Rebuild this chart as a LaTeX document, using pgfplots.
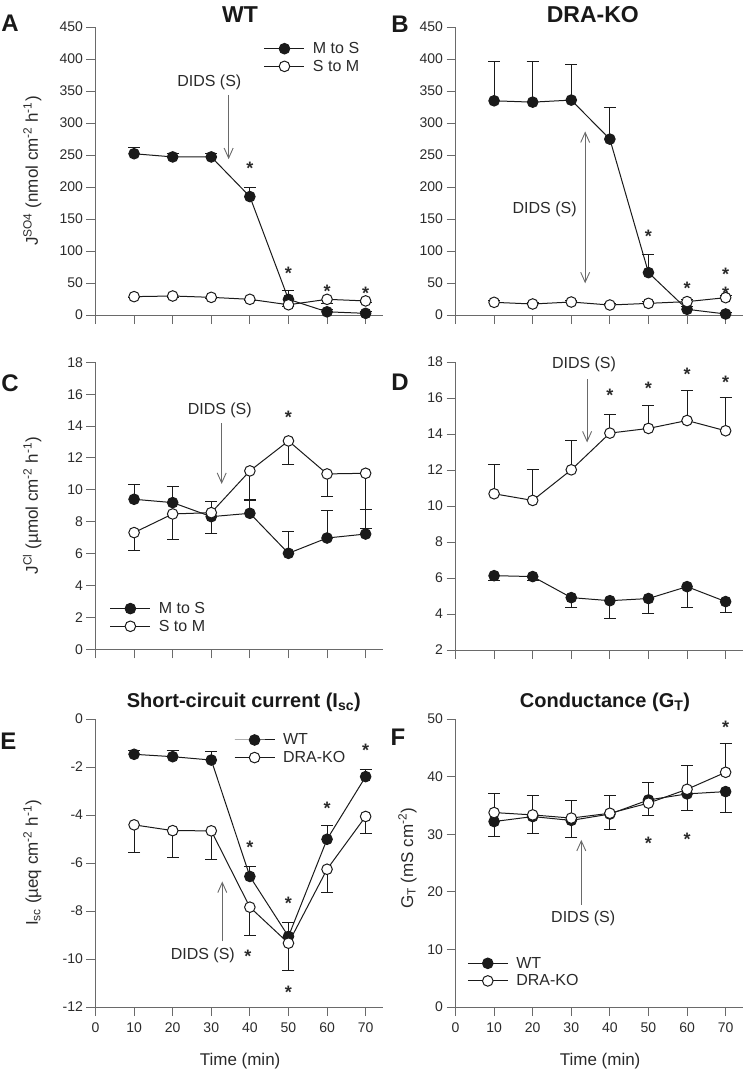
\documentclass[border=0pt]{standalone}
\usepackage{pgfplots}
\pgfplotsset{compat=1.18}
\usepackage{fontspec}
\setmainfont{Liberation Sans}
\usetikzlibrary{arrows.meta}
\definecolor{axgray}{HTML}{6A6A6A}
\definecolor{txt}{HTML}{2A2A2A}
\definecolor{ln}{HTML}{1A1A1A}

\pgfplotsset{
  panel/.style={
    scale only axis, width=287.5pt, height=288pt,
    axis lines=left, axis line style={-, axgray, line width=1pt},
    every tick/.style={axgray, line width=1pt}, major tick length=9pt, tick align=outside,
    xmin=0, xmax=74.5, xtick={0,10,...,70},
    tick label style={font=\fontsize{14}{16}\selectfont, text=txt},
    xticklabel style={yshift=-3pt},
    /pgf/number format/assume math mode=true,
    clip=false,
    every axis y label/.style={at={(axis description cs:-0.22,0.5)}, rotate=90, anchor=center,
      font=\fontsize{17}{20}\selectfont, text=txt},
    every axis x label/.style={at={(axis description cs:0.503,-0.1885)}, anchor=center,
      font=\fontsize{17}{20}\selectfont, text=txt},
    legend style={draw=none, fill=none, inner sep=0pt, outer sep=0pt,
      font=\fontsize{16}{19}\selectfont, text=txt, nodes={inner sep=1pt},
      row sep=3pt},
    legend cell align=left,
    legend image code/.code={\draw[mark repeat=2, mark phase=2] plot coordinates {(0pt,0pt) (20pt,0pt) (40pt,0pt)};
      \path (47pt,0pt);},
    error bars/error mark=-,
    error bars/error mark options={rotate=90, mark size=6pt, line width=1pt},
    error bars/error bar style={line width=1pt},
  },
  fil/.style={ln, line width=1pt, mark=*, mark size=5.3pt, mark options={fill=ln, draw=ln}},
  opn/.style={ln, line width=1pt, mark=*, mark size=5.3pt, mark options={fill=white, draw=ln, line width=1pt}},
  up/.style={error bars/.cd, y dir=plus, y explicit},
  dn/.style={error bars/.cd, y dir=minus, y explicit},
}
\tikzset{
  star/.style={anchor=north, inner sep=0pt, font=\fontsize{18}{18}\selectfont\bfseries, text=txt},
  dids/.style={anchor=center, inner sep=0pt, font=\fontsize{16}{18}\selectfont, text=txt},
  arr/.style={axgray, line width=0.9pt, -{Straight Barb[length=10pt,width=9pt]}},
  darr/.style={axgray, line width=0.9pt, {Straight Barb[length=10pt,width=9pt]}-{Straight Barb[length=10pt,width=9pt]}},
}

\begin{document}
\begin{tikzpicture}
\path[use as bounding box] (0,0) rectangle (745pt,-1074pt);

% ---------------- A ----------------
\begin{axis}[panel, at={(95.5pt,-315pt)}, anchor=south west,
  ymin=0, ymax=450, ytick={0,50,...,450}, xticklabels={},
  ylabel={J\textsuperscript{SO4} (nmol cm\textsuperscript{-2} h\textsuperscript{-1})},
  legend style={at={(axis description cs:0.586,0.894)}, anchor=west}]
\addplot[fil, up] table[x=t, y=v, y error=e] {
t v e
10 252 10
20 247 6
30 247 6
40 185 15
50 24.5 14.5
60 5 4
70 2.6 3
};
\addlegendentry{M to S}
\addplot[opn, dn] table[x=t, y=v, y error=e] {
t v e
10 28.7 2
20 29.7 2
30 27.6 2
40 24.5 2
50 16 3
60 24.5 6
70 22 3
};
\addlegendentry{S to M}
\node[dids] at (axis cs:29.5,363.9) {DIDS (S)};
\draw[arr] (axis cs:34.5,344) -- (axis cs:34.5,243.5);
\node[star] at (axis cs:40,238.8) {*};
\node[star] at (axis cs:50,75.6) {*};
\node[star] at (axis cs:60,46.9) {*};
\node[star] at (axis cs:70,44.3) {*};
\end{axis}

% ---------------- B ----------------
\begin{axis}[panel, at={(455.5pt,-315pt)}, anchor=south west,
  ymin=0, ymax=450, ytick={0,50,...,450}, xticklabels={}]
\addplot[fil, up] table[x=t, y=v, y error=e] {
t v e
10 334.7 61.3
20 332.6 63.4
30 335.8 55.2
40 274.8 50
50 66.2 27.6
60 8.9 5
70 1.6 2
};
\addplot[opn, up] table[x=t, y=v, y error=e] {
t v e
10 19.8 3
20 17.2 3
30 20.3 3
40 15.6 3
50 18.2 3
60 20.9 3
70 27.1 3
};
\node[dids] at (axis cs:23.1,165.5) {DIDS (S)};
\draw[darr] (axis cs:33.6,286.8) -- (axis cs:33.6,49.5);
\node[star] at (axis cs:50,133) {*};
\node[star] at (axis cs:60,52) {*};
\node[star] at (axis cs:70,73) {*};
\node[star] at (axis cs:70,44.3) {*};
\end{axis}

% ---------------- C ----------------
\begin{axis}[panel, at={(95.5pt,-649.3pt)}, anchor=south west,
  height=287pt,
  ymin=0, ymax=18, ytick={0,2,...,18}, xticklabels={},
  ylabel={J\textsuperscript{Cl} (µmol cm\textsuperscript{-2} h\textsuperscript{-1})},
  legend style={at={(axis description cs:0.05,0.111)}, anchor=west}]
\addplot[fil, up] table[x=t, y=v, y error=e] {
t v e
10 9.41 0.92
20 9.20 1.04
30 8.32 0.92
40 8.53 0.88
50 6.02 1.34
60 6.98 1.72
70 7.23 1.55
};
\addlegendentry{M to S}
\addplot[opn, dn] table[x=t, y=v, y error=e] {
t v e
10 7.32 1.13
20 8.49 1.59
30 8.57 1.29
40 11.19 1.84
50 13.07 1.45
60 11.00 1.42
70 11.04 3.45
};
\addlegendentry{S to M}
\node[dids] at (axis cs:32.2,14.97) {DIDS (S)};
\draw[arr] (axis cs:32.7,14.17) -- (axis cs:32.7,10.37);
\node[star] at (axis cs:50,14.95) {*};
\end{axis}

% ---------------- D ----------------
\begin{axis}[panel, at={(455.5pt,-650pt)}, anchor=south west,
  ymin=2, ymax=18, ytick={2,4,...,18}, xticklabels={}]
\addplot[fil, dn] table[x=t, y=v, y error=e] {
t v e
10 6.13 0.27
20 6.08 0.22
30 4.91 0.56
40 4.74 0.98
50 4.86 0.82
60 5.52 1.17
70 4.69 0.61
};
\addplot[opn, up] table[x=t, y=v, y error=e] {
t v e
10 10.68 1.63
20 10.31 1.72
30 12.01 1.63
40 14.05 1.06
50 14.31 1.26
60 14.75 1.67
70 14.18 1.85
};
\node[dids] at (axis cs:33.3,17.85) {DIDS (S)};
\draw[arr] (axis cs:34.1,17.05) -- (axis cs:34.1,13.53);
\node[star] at (axis cs:40,16.52) {*};
\node[star] at (axis cs:50,16.92) {*};
\node[star] at (axis cs:60,17.67) {*};
\node[star] at (axis cs:70,17.24) {*};
\end{axis}

% ---------------- E ----------------
\begin{axis}[panel, at={(95.5pt,-1007pt)}, anchor=south west,
  ymin=-12, ymax=0, ytick={-12,-10,...,0},
  xlabel={Time (min)},
  ylabel={I\textsubscript{sc} (µeq cm\textsuperscript{-2} h\textsuperscript{-1})},
  legend style={at={(axis description cs:0.482,0.8965)}, anchor=west}]
\addplot[fil, up] table[x=t, y=v, y error=e] {
t v e
10 -1.47 0.15
20 -1.57 0.25
30 -1.71 0.34
40 -6.56 0.41
50 -9.06 0.60
60 -5.01 0.57
70 -2.40 0.28
};
\addlegendentry{WT}
\addplot[opn, dn] table[x=t, y=v, y error=e] {
t v e
10 -4.41 1.14
20 -4.65 1.11
30 -4.66 1.18
40 -7.84 1.16
50 -9.34 1.13
60 -6.26 0.97
70 -4.06 0.73
};
\addlegendentry{DRA-KO}
\node[dids] at (axis cs:27.8,-9.86) {DIDS (S)};
\draw[arr] (axis cs:32.85,-9.27) -- (axis cs:32.85,-6.77);
\node[star] at (axis cs:40,-5.08) {*};
\node[star] at (axis cs:39.5,-9.61) {*};
\node[star] at (axis cs:50,-7.42) {*};
\node[star] at (axis cs:50,-11.14) {*};
\node[star] at (axis cs:60,-3.44) {*};
\node[star] at (axis cs:70,-1.04) {*};
\end{axis}

% ---------------- F ----------------
\begin{axis}[panel, at={(455.5pt,-1007pt)}, anchor=south west,
  ymin=0, ymax=50, ytick={0,10,...,50},
  xlabel={Time (min)},
  ylabel={G\textsubscript{T} (mS cm\textsuperscript{-2})},
  every axis y label/.append style={at={(axis description cs:-0.167,0.516)}},
  legend style={at={(axis description cs:0.041,0.121)}, anchor=west}]
\addplot[fil, dn] table[x=t, y=v, y error=e] {
t v e
10 32.20 2.60
20 33.06 2.86
30 32.40 2.90
40 33.50 2.75
50 35.95 2.75
60 37.00 2.95
70 37.40 3.64
};
\addlegendentry{WT}
\addplot[opn, up] table[x=t, y=v, y error=e] {
t v e
10 33.76 3.24
20 33.35 3.30
30 32.80 3.10
40 33.64 3.16
50 35.40 3.56
60 37.80 4.20
70 40.75 4.95
};
\addlegendentry{DRA-KO}
\node[dids] at (axis cs:33.1,15.35) {DIDS (S)};
\draw[arr] (axis cs:32.6,17.75) -- (axis cs:32.6,29.02);
\node[star] at (axis cs:50,29.6) {*};
\node[star] at (axis cs:60,30.3) {*};
\node[star] at (axis cs:70,49.65) {*};
\end{axis}

% ---------------- titles and panel letters ----------------
\begin{scope}[every node/.style={anchor=base, inner sep=0pt, text=black!90}]
\node[font=\fontsize{23}{23}\selectfont\bfseries] at (240pt,-22pt) {WT};
\node[font=\fontsize{23}{23}\selectfont\bfseries] at (592.8pt,-22.5pt) {DRA-KO};
\node[font=\fontsize{20}{20}\selectfont\bfseries] at (243.8pt,-707pt) {Short-circuit current (I\textsubscript{sc})};
\node[font=\fontsize{20}{20}\selectfont\bfseries] at (605pt,-707pt) {Conductance (G\textsubscript{T})};
\node[font=\fontsize{24}{24}\selectfont\bfseries] at (10pt,-31.7pt) {A};
\node[font=\fontsize{24}{24}\selectfont\bfseries] at (400pt,-32.3pt) {B};
\node[font=\fontsize{24}{24}\selectfont\bfseries] at (10pt,-391.7pt) {C};
\node[font=\fontsize{24}{24}\selectfont\bfseries] at (400pt,-390pt) {D};
\node[font=\fontsize{24}{24}\selectfont\bfseries] at (8.5pt,-749.3pt) {E};
\node[font=\fontsize{24}{24}\selectfont\bfseries] at (398pt,-745pt) {F};
\end{scope}
\end{tikzpicture}
\end{document}
